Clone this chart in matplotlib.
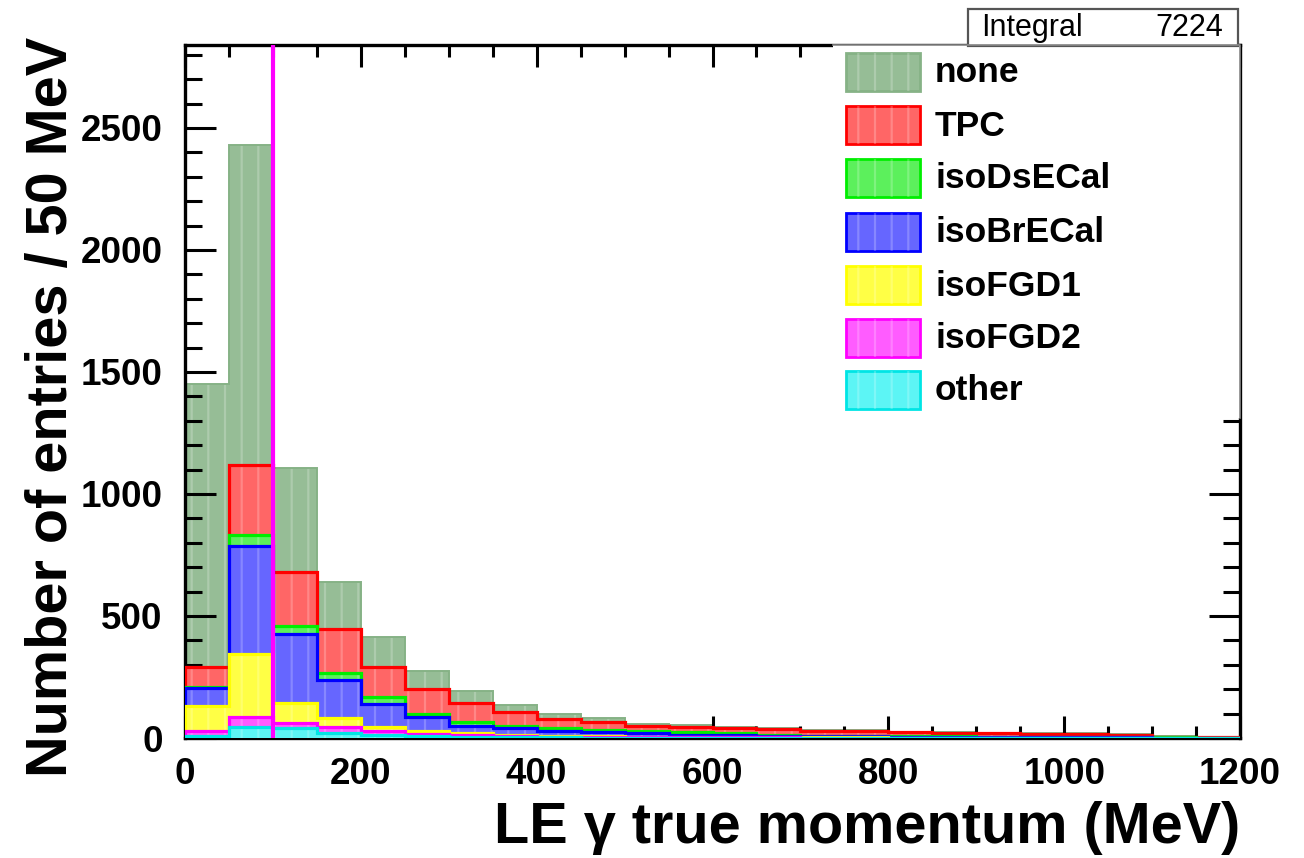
import numpy as np
import matplotlib
matplotlib.use("Agg")
import matplotlib.pyplot as plt
from matplotlib.patches import Rectangle
from matplotlib.ticker import MultipleLocator

plt.rcParams['font.family'] = ['Liberation Sans', 'DejaVu Sans']
plt.rcParams['hatch.linewidth'] = 1.6

# 50 MeV bins from 0 to 1200 MeV
bin_edges = np.arange(0, 1201, 50)

# entries per bin for each category (bottom of the stack first)
other = [8, 45, 40, 20, 12, 8, 5, 4, 3, 2, 2, 2, 2, 1, 1, 1, 1, 1, 1, 1, 0, 0, 0, 0]
isoFGD2 = [20, 41, 21, 25, 16, 10, 7, 4, 3, 3, 2, 2, 1, 2, 1, 1, 0, 0, 0, 0, 1, 1, 0, 0]
isoFGD1 = [105, 259, 84, 35, 17, 12, 8, 6, 4, 3, 2, 2, 2, 1, 1, 1, 1, 1, 1, 1, 0, 0, 1, 1]
isoBrECal = [72, 440, 280, 156, 95, 56, 30, 26, 18, 16, 14, 8, 7, 6, 5, 4, 4, 3, 3, 2, 3, 2, 1, 0]
isoDsECal = [5, 45, 35, 32, 26, 14, 16, 8, 12, 8, 10, 10, 8, 4, 2, 2, 2, 2, 1, 2, 1, 2, 1, 1]
TPC = [80, 288, 222, 180, 126, 100, 77, 57, 36, 32, 20, 23, 20, 22, 19, 18, 15, 14, 13, 12, 11, 9, 2, 1]
none = [1160, 1312, 423, 192, 123, 76, 49, 32, 22, 16, 8, 7, 5, 4, 4, 4, 3, 3, 3, 3, 3, 3, 2, 1]

categories = ["none", "TPC", "isoDsECal", "isoBrECal", "isoFGD1", "isoFGD2", "other"]
series = {"none": none, "TPC": TPC, "isoDsECal": isoDsECal, "isoBrECal": isoBrECal,
          "isoFGD1": isoFGD1, "isoFGD2": isoFGD2, "other": other}

# selection cut on the photon momentum
cut_momentum = 100

x_ticks = [0, 200, 400, 600, 800, 1000, 1200]
y_ticks = [0, 500, 1000, 1500, 2000, 2500]

fill_colors = {"none": "#96bd96", "TPC": "#ff6666", "isoDsECal": "#5cf05c",
               "isoBrECal": "#6666ff", "isoFGD1": "#ffff45", "isoFGD2": "#ff5cff",
               "other": "#5cf5f5"}
line_colors = {"none": "#86b286", "TPC": "#ff0000", "isoDsECal": "#00ee00",
               "isoBrECal": "#0000ff", "isoFGD1": "#ffff00", "isoFGD2": "#ff00ff",
               "other": "#00e5e5"}

W, H = 1304, 858
fig = plt.figure(figsize=(W / 100, H / 100), dpi=100)
ax = fig.add_axes([185 / W, 1 - 738 / H, 1055 / W, 693 / H])

# stacked histogram: cumulative sums from the bottom category upwards
stack_order = categories[::-1]
cum = np.zeros(len(bin_edges) - 1)
tops = {}
for name in stack_order:
    cum = cum + np.asarray(series[name], dtype=float)
    tops[name] = cum.copy()

z = 2
for name in categories:
    top = tops[name]
    ax.stairs(top, bin_edges, baseline=0, fill=True, color=fill_colors[name], lw=0, zorder=z)
    ax.stairs(top, bin_edges, baseline=0, fill=True, facecolor="none",
              edgecolor=(1, 1, 1, 0.22), hatch="|", lw=0, zorder=z + 0.1)
    lw = 1.4 if name == "none" else 2.3
    ax.stairs(top, bin_edges, baseline=0, color=line_colors[name], lw=lw, zorder=z + 0.2)
    z += 1

ax.axvline(cut_momentum, color="#ff00ff", lw=3.0, zorder=z + 1)

ax.set_xlim(0, 1200)
ax.set_ylim(0, 2840)
ax.set_xticks(x_ticks)
ax.set_yticks(y_ticks)
ax.xaxis.set_minor_locator(MultipleLocator(50))
ax.yaxis.set_minor_locator(MultipleLocator(100))
ax.tick_params(axis="both", which="both", direction="in", top=True, right=True,
               width=2.2, color="black")
ax.tick_params(axis="x", which="major", length=16, pad=14)
ax.tick_params(axis="x", which="minor", length=8.5)
ax.tick_params(axis="y", which="major", length=22, pad=16)
ax.tick_params(axis="y", which="minor", length=12)
for lab in ax.get_xticklabels() + ax.get_yticklabels():
    lab.set_fontweight("bold")
    lab.set_fontsize(26.5)
for sp in ax.spines.values():
    sp.set_linewidth(2.4)
ax.set_axisbelow(False)

fig.text(52 / W, 1 - 407 / H, "Number of entries / 50 MeV", rotation=90,
         ha="center", va="center", fontsize=41.5, fontweight="bold")
fig.text(1240 / W, 1 - 828 / H, "LE \u03b3 true momentum (MeV)", ha="right",
         va="center", fontsize=41.5, fontweight="bold")

# overlay in pixel coordinates for the legend and the statistics box
ov = fig.add_axes([0, 0, 1, 1], zorder=10)
ov.set_xlim(0, W)
ov.set_ylim(H, 0)
ov.axis("off")
ov.patch.set_alpha(0)

ov.add_patch(Rectangle((833, 45), 407, 373, facecolor="white", edgecolor="none"))
ov.plot([833, 1240, 1240], [45, 45, 418], color="#888888", lw=1.2)

row_y = [72, 125, 178, 232, 285, 338, 390]
for name, yc in zip(categories, row_y):
    ov.add_patch(Rectangle((846, yc - 19), 74, 38, facecolor=fill_colors[name],
                           edgecolor=line_colors[name], lw=2.0))
    ov.add_patch(Rectangle((846, yc - 19), 74, 38, facecolor="none",
                           edgecolor=(1, 1, 1, 0.22), hatch="|", lw=0))
    ov.text(935, yc + 1, name, ha="left", va="center", fontsize=25.5, fontweight="bold")

ov.add_patch(Rectangle((968, 9), 270, 37, facecolor="white", edgecolor="#555555", lw=1.6))
ov.text(981, 28, "Integral", ha="left", va="center", fontsize=22)
total = int(sum(sum(series[n]) for n in categories))
ov.text(1223, 28, f"{total}", ha="right", va="center", fontsize=22)

fig.savefig("out.png", dpi=100)
